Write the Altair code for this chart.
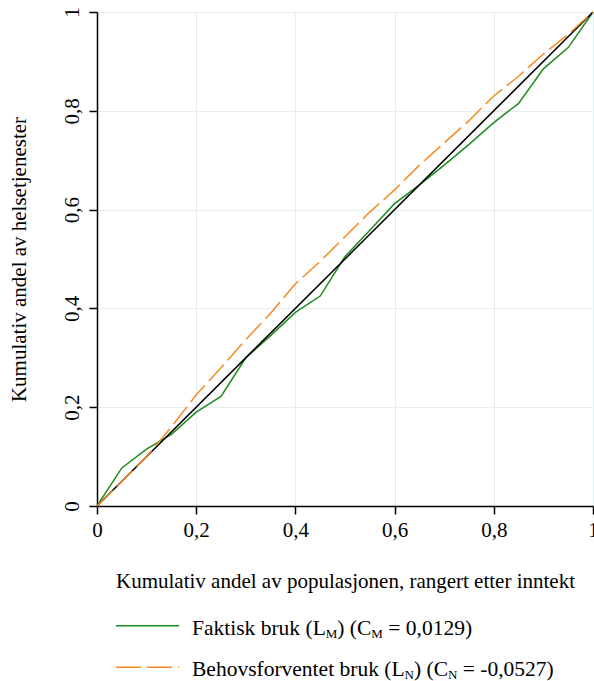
import altair as alt
import pandas as pd

# ---- data ----
pop_share = [0, 0.05, 0.10, 0.15, 0.20, 0.25, 0.30, 0.35, 0.40, 0.45, 0.50,
             0.55, 0.60, 0.65, 0.70, 0.75, 0.80, 0.85, 0.90, 0.95, 1.0]
faktisk = [0, 0.077, 0.115, 0.145, 0.19, 0.222, 0.300, 0.345, 0.392, 0.425, 0.505,
           0.558, 0.612, 0.650, 0.690, 0.732, 0.776, 0.815, 0.885, 0.928, 1.0]
behov = [0, 0.050, 0.100, 0.160, 0.225, 0.280, 0.337, 0.390, 0.450, 0.495, 0.545,
         0.595, 0.640, 0.690, 0.735, 0.780, 0.830, 0.870, 0.915, 0.955, 1.0]
diag_x = [0, 1]
diag_y = [0, 1]
ticks = [0, 0.2, 0.4, 0.6, 0.8, 1.0]

x_title = "Kumulativ andel av populasjonen, rangert etter inntekt"
y_title = "Kumulativ andel av helsetjenester"
legend_rows = [
    [("Faktisk bruk (L", False), ("M", True), (") (C", False), ("M", True), (" = 0,0129)", False)],
    [("Behovsforventet bruk (L", False), ("N", True), (") (C", False), ("N", True), (" = -0,0527)", False)],
]

FONT = "Liberation Serif"
GREEN = "#1f8c1f"
ORANGE = "#f7891f"
W, H = 496, 494
FS = 21
LEG_FS = 21.5
SUB_FS = 13

df_f = pd.DataFrame({"x": pop_share, "y": faktisk})
df_b = pd.DataFrame({"x": pop_share, "y": behov})
df_d = pd.DataFrame({"x": diag_x, "y": diag_y})
one = pd.DataFrame({"k": [0]})

lab = "replace(format(datum.value, '~g'), '.', ',')"
xs = alt.Scale(domain=[0, 1], nice=False)
ys = alt.Scale(domain=[0, 1], nice=False)
xaxis = alt.Axis(values=ticks, labelExpr=lab, title=x_title, grid=True,
                 labelBaseline="alphabetic", labelPadding=22,
                 titleX=W / 2, titleY=81, titleAlign="center", titleBaseline="alphabetic")
yaxis = alt.Axis(values=ticks, labelExpr=lab, title=y_title, grid=True,
                 labelAngle=270, labelAlign="center", labelBaseline="alphabetic",
                 labelPadding=11,
                 titleAngle=270, titleX=-72, titleY=H / 2, titleAlign="center",
                 titleBaseline="alphabetic")

base_f = alt.Chart(df_f).mark_line(color=GREEN, strokeWidth=1.5).encode(
    x=alt.X("x:Q", scale=xs, axis=xaxis),
    y=alt.Y("y:Q", scale=ys, axis=yaxis),
)
diag = alt.Chart(df_d).mark_line(color="black", strokeWidth=1.5).encode(
    x=alt.X("x:Q", scale=xs), y=alt.Y("y:Q", scale=ys))
beh = alt.Chart(df_b).mark_line(color=ORANGE, strokeWidth=1.5, strokeDash=[22, 6]).encode(
    x=alt.X("x:Q", scale=xs), y=alt.Y("y:Q", scale=ys))

# ---- custom legend with subscripts (Times metrics for piece widths) ----
TW = {' ': 250, '(': 333, ')': 333, ',': 250, '-': 333, '=': 564, '.': 250,
      'B': 667, 'C': 667, 'F': 556, 'L': 611, 'M': 889, 'N': 722,
      'a': 444, 'b': 500, 'e': 444, 'f': 333, 'h': 500, 'i': 278, 'k': 500,
      'n': 500, 'o': 500, 'r': 333, 's': 389, 't': 278, 'u': 500, 'v': 500}
for d in "0123456789":
    TW[d] = 500


def width(s, fs):
    return sum(TW.get(c, 500) for c in s) / 1000 * fs


legend_layers = []
row_base = [623, 664]
row_line = [613.7, 655.3]
for i, row in enumerate(legend_rows):
    if i == 0:
        legend_layers.append(alt.Chart(one).mark_rule(color=GREEN, strokeWidth=1.5).encode(
            x=alt.value(19), x2=alt.value(82), y=alt.value(row_line[i])))
    else:
        legend_layers.append(alt.Chart(one).mark_rule(color=ORANGE, strokeWidth=1.5,
                                                        strokeDash=[25, 6]).encode(
            x=alt.value(19), x2=alt.value(82), y=alt.value(row_line[i])))
    xpos = 95.0
    for piece, sub in row:
        fs = SUB_FS if sub else LEG_FS
        yy = row_base[i] + (3 if sub else 0)
        lead = len(piece) - len(piece.lstrip(" "))
        xpos += width(" " * lead, fs)
        shown = piece.strip(" ")
        legend_layers.append(alt.Chart(one).mark_text(
            align="left", baseline="alphabetic", font=FONT, fontSize=fs, color="black"
        ).encode(x=alt.value(xpos), y=alt.value(yy), text=alt.value(shown)))
        xpos += width(shown, fs)

chart = alt.layer(base_f, diag, beh, *legend_layers).properties(
    width=W, height=H,
    autosize=alt.AutoSizeParams(type="none"),
    padding={"left": 97, "top": 12, "right": 1, "bottom": 175},
    background="white",
).configure_view(stroke=None).configure_axis(
    labelFont=FONT, titleFont=FONT, labelFontSize=FS, titleFontSize=FS,
    labelColor="black", titleColor="black", titleFontWeight="normal",
    domainColor="black", domainWidth=1.5, tickColor="black", tickWidth=1.5, tickSize=8,
    gridColor="#e4eef0", gridWidth=1, labelOverlap=False, labelFlush=False,
)

chart.save("out.html", embed_options={"renderer": "svg", "actions": False})
